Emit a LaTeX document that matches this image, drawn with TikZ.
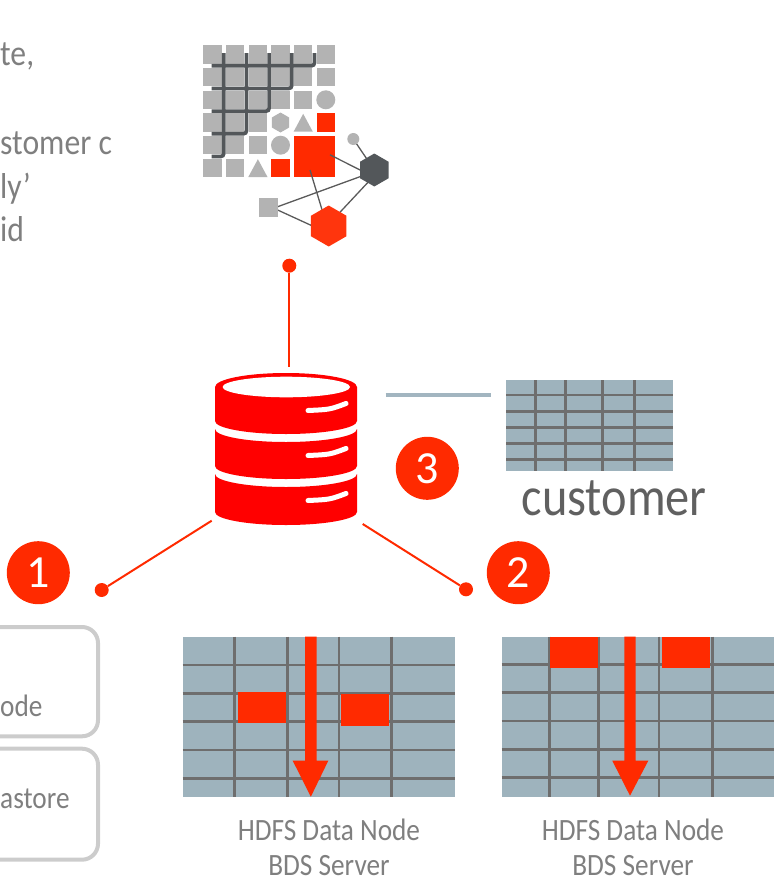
\documentclass[tikz,border=0pt]{standalone}
\usepackage{fontspec}
\setmainfont{Carlito}
\newfontfamily\cfont[FakeStretch=0.88]{Carlito}
\definecolor{accent}{HTML}{FF2A00}
\definecolor{dbred}{HTML}{FF0000}
\definecolor{txtgray}{HTML}{7F7F7F}
\definecolor{darktxt}{HTML}{606060}
\definecolor{tblfill}{HTML}{9EB3BD}
\definecolor{tblline}{HTML}{6E6E6E}
\definecolor{iconGray}{HTML}{B3B3B3}
\definecolor{iconDark}{HTML}{53575A}
\definecolor{netline}{HTML}{5A5A5A}
\definecolor{linkBlue}{HTML}{A2B5C0}
\definecolor{boxEdge}{HTML}{CCCCCC}
\begin{document}
\begin{tikzpicture}[x=1pt,y=-1pt,
  numcirc/.style={circle,fill=accent,minimum size=63pt,inner sep=0pt,text=white,font=\fontsize{46}{46}\selectfont},
  dot/.style={circle,fill=accent,minimum size=14pt,inner sep=0pt},
  redlink/.style={draw=accent,line width=2pt},
  caption/.style={font=\cfont\fontsize{31}{35}\selectfont,text=txtgray,inner sep=0pt,anchor=base},
  bodytext/.style={font=\cfont\fontsize{36}{44}\selectfont,text=txtgray,inner sep=0pt,anchor=base west},
  boxtext/.style={font=\cfont\fontsize{31}{35}\selectfont,text=txtgray,inner sep=0pt,anchor=base west},
  gridline/.style={draw=tblline,line width=2.7pt},
  tblbox/.style={rectangle,fill=tblfill,inner sep=0pt,outer sep=0pt},
  block/.style={fill=accent},
  leftbox/.style={rectangle,draw=boxEdge,line width=4pt,rounded corners=16pt,inner sep=0pt,outer sep=0pt},
  net/.style={draw=netline,line width=1.3pt},
  stair/.style={draw=iconDark,line width=3.7pt,rounded corners=3pt},
  slot/.style={draw=white,line width=5pt,line cap=round},
]
\useasboundingbox (0,0) rectangle (781,894);

% ---- paragraph fragment, top left ----
\node[bodytext] (p1) at (0,65) {te,};
\node[bodytext] (p2) at (0,154) {stomer c};
\node[bodytext] (p3) at (0,198) {ly’};
\node[bodytext] (p4) at (0,241) {id};

% ---- data icon: tile grid ----
\foreach \r/\n in {0/5,1/5,2/4,3/2,4/2,5/1}
  \foreach \c in {0,...,\n}
    \fill[iconGray] ({203.3+22.67*\c},{45.3+22.67*\r}) rectangle ++(18.33,18.33);
\fill[iconGray] (325.8,99.8) circle (9.5);
\fill[iconGray] (280.5,145.2) circle (9.5);
\fill[iconGray] (280.5,122.5) +(90:10) -- +(150:10) -- +(210:10) -- +(270:10) -- +(330:10) -- +(30:10) -- cycle;
\fill[iconGray] (303.2,113.8) -- (312.8,131.7) -- (293.6,131.7) -- cycle;
\fill[iconGray] (257.9,159.2) -- (267.5,177) -- (248.3,177) -- cycle;
\fill[accent] (316.7,113.3) rectangle ++(18.33,18.33);
\fill[accent] (271.3,158.7) rectangle ++(18.33,18.33);
\fill[accent] (294,136) rectangle (335,177);
% staircase strokes in the gaps
\foreach \k in {1,...,5}
  \draw[stair] ({203.3+22.67*\k-2.17},53) -- ({203.3+22.67*\k-2.17},{45.3+22.67*(6-\k)-2.17}) -- (211.7,{45.3+22.67*(6-\k)-2.17});

% ---- data icon: small network ----
\draw[net] (353.3,139) -- (374.3,170);
\draw[net] (330,154.8) -- (365,172.5);
\draw[net] (310,170) -- (323,213);
\draw[net] (270,209.5) -- (366,174.5);
\draw[net] (270,206.5) -- (318,228.5);
\draw[net] (336,216.5) -- (372,178);
\fill[iconGray] (353.3,139) circle (6);
\fill[iconGray] (259,198.3) rectangle (277.7,217.3);
\fill[iconDark] (374.3,170) +(90:16.5) -- +(150:16.5) -- +(210:16.5) -- +(270:16.5) -- +(330:16.5) -- +(30:16.5) -- cycle;
\fill[accent!95!white] (328.7,226) +(90:20.5) -- +(150:20.5) -- +(210:20.5) -- +(270:20.5) -- +(330:20.5) -- +(30:20.5) -- cycle;

% ---- database cylinder ----
\fill[dbred] (215,387) arc[start angle=180,end angle=360,x radius=71,y radius=14]
  -- (357,421) arc[start angle=0,end angle=180,x radius=71,y radius=13] -- cycle;
\fill[dbred] (215,429) arc[start angle=180,end angle=0,x radius=71,y radius=13]
  -- (357,466) arc[start angle=0,end angle=180,x radius=71,y radius=13] -- cycle;
\fill[dbred] (215,474) arc[start angle=180,end angle=0,x radius=71,y radius=13]
  -- (357,512) arc[start angle=0,end angle=180,x radius=71,y radius=13] -- cycle;
\fill[white] (286.3,387) ellipse[x radius=63.7,y radius=10.3];
\draw[slot] (308,410.5) .. controls (330,409.5) .. (346,403.5);
\draw[slot] (308,455.5) .. controls (330,454.5) .. (346,448.5);
\draw[slot] (308,500.5) .. controls (330,499.5) .. (346,493.5);

% ---- red connectors with end dots ----
\node[dot] (dtop) at (289.3,265.7) {};
\node[dot] (dleft) at (101.7,590) {};
\node[dot] (dright) at (466,589.3) {};
\coordinate (dbTop) at (289.3,366.7);
\coordinate (dbLeft) at (211.7,520.7);
\coordinate (dbRight) at (362.7,524);
\draw[redlink] (dtop) -- (dbTop);
\draw[redlink] (dleft) -- (dbLeft);
\draw[redlink] (dright) -- (dbRight);

% ---- numbered markers ----
\node[numcirc] (n1) at (38.3,572.7) {1};
\node[numcirc] (n2) at (518.3,572.7) {2};
\node[numcirc] (n3) at (427.3,468.3) {3};

% ---- customer table ----
\coordinate (dbSide) at (385.7,394.7);
\coordinate (custLink) at (491,394.7);
\draw[draw=linkBlue,line width=4pt] (dbSide) -- (custLink);
\node[tblbox,minimum width=166.7pt,minimum height=90.7pt] (cust) at (589.35,425.35) {};
\foreach \x in {535.7,565.7,602.7,634.3} \draw[gridline] (\x,380) -- (\x,470.7);
\foreach \y in {395,411.7,427.7,443.3,459.3} \draw[gridline] (506,\y) -- (672.7,\y);
\node[font=\cfont\fontsize{55}{60}\selectfont,text=darktxt,inner sep=0pt,anchor=base west] (custlabel) at (521.5,515) {customer};

% ---- left boxes ----
\node[leftbox,minimum width=200pt,minimum height=109.3pt] (box1) at (-2,681.65) {};
\node[leftbox,minimum width=200pt,minimum height=111pt] (box2) at (-2,804.2) {};
\node[boxtext] (box1txt) at (0,716.7) {ode};
\node[boxtext] (box2txt) at (0,808.3) {astore};

% ---- data node table 1 ----
\node[tblbox,minimum width=272.3pt,minimum height=160pt] (tab1) at (318.85,716.7) {};
\foreach \x in {234.3,287.3,339,391.7} \draw[gridline] (\x,636.7) -- (\x,796.7);
\foreach \y in {665,693.3,721.7,750,778.3} \draw[gridline] (182.7,\y) -- (455,\y);
\fill[block] (237.7,691.7) rectangle (286,723.3);
\fill[block] (341,694) rectangle (389.3,725.7);
\fill[block] (305,636.7) -- (316.7,636.7) -- (316.7,760.7) -- (328.3,760.7) -- (310.85,796.7) -- (292.7,760.7) -- (305,760.7) -- cycle;
\node[caption] (cap1a) at (329,840) {HDFS Data Node};
\node[caption] (cap1b) at (329,875) {BDS Server};

% ---- data node table 2 ----
\node[tblbox,minimum width=272.6pt,minimum height=160pt] (tab2) at (638,716.7) {};
\foreach \x in {549.3,598.3,659,712.3} \draw[gridline] (\x,636.7) -- (\x,796.7);
\foreach \y in {664.3,692.7,721,749.3,777.7} \draw[gridline] (501.7,\y) -- (774.3,\y);
\fill[block] (550,636.7) rectangle (597.7,668.3);
\fill[block] (661.7,636.7) rectangle (710,668.3);
\fill[block] (624.3,636.7) -- (635.7,636.7) -- (635.7,760.7) -- (648.3,760.7) -- (630,795.7) -- (612.3,760.7) -- (624.3,760.7) -- cycle;
\node[caption] (cap2a) at (633,840) {HDFS Data Node};
\node[caption] (cap2b) at (633,875) {BDS Server};
\end{tikzpicture}
\end{document}
